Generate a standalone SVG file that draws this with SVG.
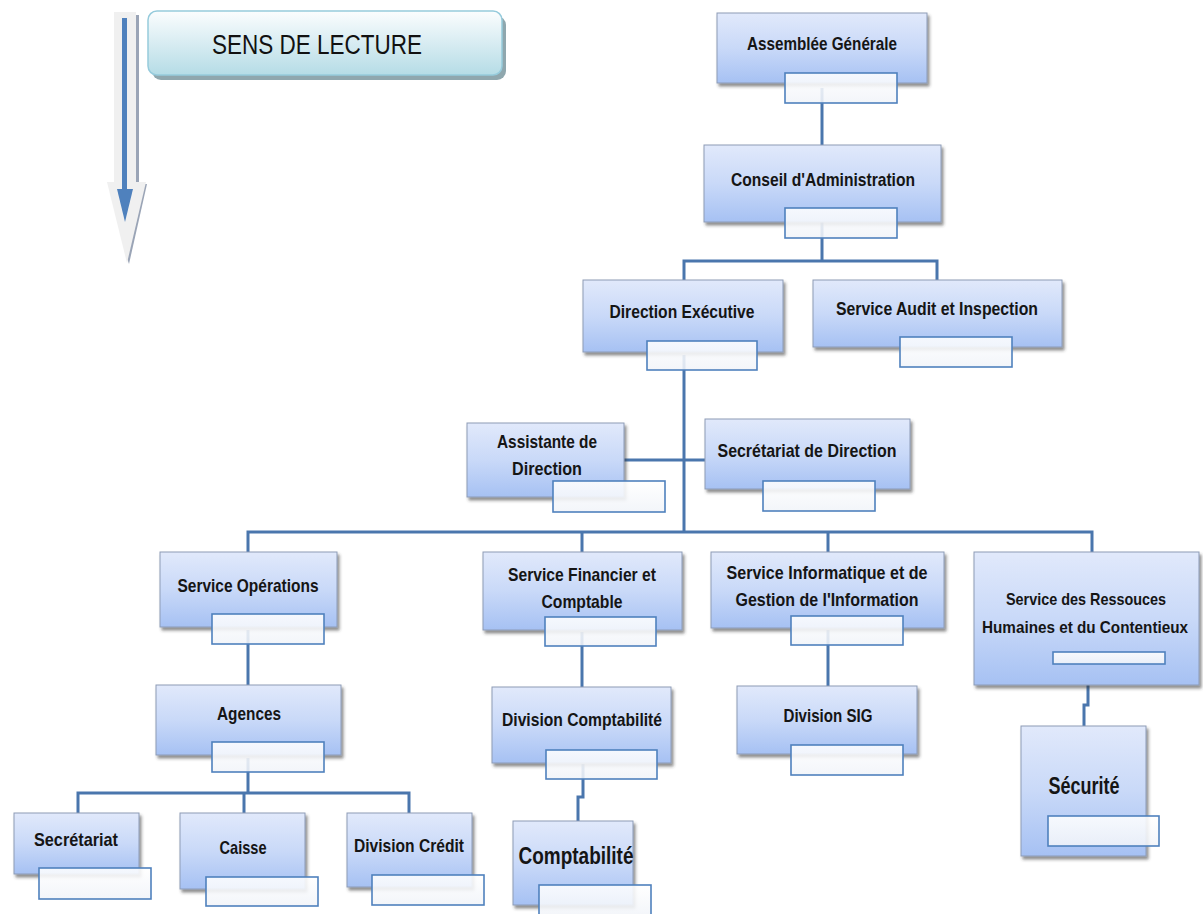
<svg xmlns="http://www.w3.org/2000/svg" width="1203" height="914" viewBox="0 0 1203 914">
<defs>
<linearGradient id="gNode" x1="0" y1="0" x2="0" y2="1">
<stop offset="0" stop-color="#e1e9fb"/>
<stop offset="0.5" stop-color="#c9d9f8"/>
<stop offset="1" stop-color="#a6c1f3"/>
</linearGradient>
<linearGradient id="gSub" x1="0" y1="0" x2="0" y2="1">
<stop offset="0" stop-color="#ffffff"/>
<stop offset="1" stop-color="#f1f4f9"/>
</linearGradient>
<linearGradient id="gSens" x1="0" y1="0" x2="0" y2="1">
<stop offset="0" stop-color="#fbfdfe"/>
<stop offset="1" stop-color="#b5dce6"/>
</linearGradient>
<filter id="sh" x="-10%" y="-10%" width="125%" height="135%">
<feDropShadow dx="2" dy="3" stdDeviation="1.6" flood-color="#333" flood-opacity="0.55"/>
</filter>
</defs>
<style>
.box{fill:url(#gNode);stroke:#8d9bb6;stroke-width:1;filter:url(#sh)}
.sub{fill:url(#gSub);fill-opacity:0.88;stroke:#4f81bd;stroke-width:1.6}
.con{fill:none;stroke:#4a76ad;stroke-width:3;stroke-linejoin:miter}
.t{font-family:"Liberation Sans",Arial,sans-serif;font-size:19px;font-weight:bold;fill:#151515;text-anchor:middle}
.big{font-size:23px}
.sm{font-size:17px}
.xs{font-size:16px}
</style>
<rect width="1203" height="914" fill="#ffffff"/>

<g id="reading-arrow">
<rect x="136" y="15" width="3" height="169" fill="#9aa4b6"/>
<polygon points="139,184 147,184 129,264 127,258" fill="#9aa4b6"/>
<rect x="114" y="12" width="22" height="172" fill="#f0f0f0"/>
<polygon points="107,182 146,182 127,263" fill="#f0f0f0"/>
<rect x="122" y="18" width="5" height="172" fill="#4f81bd"/>
<polygon points="117,189 133,189 125,222" fill="#4f81bd"/>
</g>

<g id="sens-de-lecture">
<rect x="152" y="16" width="354" height="64" rx="9" fill="#8fa7ae"/>
<rect x="148" y="11" width="354" height="64" rx="9" fill="url(#gSens)" stroke="#96cbdc" stroke-width="1.5"/>
<text x="317" y="54" style="font-family:'Liberation Sans',Arial,sans-serif;font-size:27px;fill:#111;text-anchor:middle" textLength="210" lengthAdjust="spacingAndGlyphs">SENS DE LECTURE</text>
</g>

<g id="connectors">
<path class="con" d="M822,88 V145"/>
<path class="con" d="M822,222 V261 M684,280 V261 H937 V280"/>
<path class="con" d="M684,355 V532 M624,460 H705"/>
<path class="con" d="M248,552 V532 H1092 V552 M582,532 V552 M828,532 V552"/>
<path class="con" d="M248,630 V685"/>
<path class="con" d="M248,758 V793 M78,813 V793 H409 V813 M244,793 V813"/>
<path class="con" d="M582,632 V687"/>
<path class="con" d="M583,764 V797 H578 V822"/>
<path class="con" d="M828,630 V686"/>
<path class="con" d="M1088,685 V705 H1084 V726"/>
</g>

<g id="assemblee-generale">
<rect class="box" x="717" y="13" width="210" height="70"/>
<text class="t" x="822" y="50" textLength="150" lengthAdjust="spacingAndGlyphs">Assemblée Générale</text>
<rect class="sub" x="785" y="73" width="112" height="30"/>
</g>

<g id="conseil-administration">
<rect class="box" x="704" y="145" width="237" height="77"/>
<text class="t" x="823" y="186" textLength="184" lengthAdjust="spacingAndGlyphs">Conseil d'Administration</text>
<rect class="sub" x="785" y="208" width="112" height="30"/>
</g>

<g id="direction-executive">
<rect class="box" x="583" y="280" width="200" height="72"/>
<text class="t" x="682" y="318" textLength="145" lengthAdjust="spacingAndGlyphs">Direction Exécutive</text>
<rect class="sub" x="647" y="341" width="110" height="29"/>
</g>

<g id="service-audit">
<rect class="box" x="813" y="280" width="249" height="67"/>
<text class="t" x="937" y="315" textLength="202" lengthAdjust="spacingAndGlyphs">Service Audit et Inspection</text>
<rect class="sub" x="900" y="337" width="112" height="30"/>
</g>

<g id="assistante-direction">
<rect class="box" x="467" y="423" width="157" height="74"/>
<text class="t" x="547" y="448" textLength="100" lengthAdjust="spacingAndGlyphs">Assistante de</text>
<text class="t" x="547" y="475" textLength="70" lengthAdjust="spacingAndGlyphs">Direction</text>
<rect class="sub" x="553" y="481" width="112" height="31"/>
</g>

<g id="secretariat-direction">
<rect class="box" x="705" y="419" width="205" height="70"/>
<text class="t" x="807" y="457" textLength="179" lengthAdjust="spacingAndGlyphs">Secrétariat de Direction</text>
<rect class="sub" x="763" y="481" width="112" height="30"/>
</g>

<g id="service-operations">
<rect class="box" x="160" y="552" width="177" height="75"/>
<text class="t" x="248" y="592" textLength="141" lengthAdjust="spacingAndGlyphs">Service Opérations</text>
<rect class="sub" x="212" y="614" width="112" height="30"/>
</g>

<g id="service-financier">
<rect class="box" x="483" y="552" width="199" height="78"/>
<text class="t" x="582" y="581" textLength="148" lengthAdjust="spacingAndGlyphs">Service Financier et</text>
<text class="t" x="582" y="608" textLength="81" lengthAdjust="spacingAndGlyphs">Comptable</text>
<rect class="sub" x="545" y="617" width="111" height="29"/>
</g>

<g id="service-informatique">
<rect class="box" x="711" y="552" width="233" height="76"/>
<text class="t" x="827" y="579" textLength="201" lengthAdjust="spacingAndGlyphs">Service Informatique et de</text>
<text class="t" x="827" y="606" textLength="183" lengthAdjust="spacingAndGlyphs">Gestion de l'Information</text>
<rect class="sub" x="791" y="616" width="112" height="29"/>
</g>

<g id="service-rh">
<rect class="box" x="974" y="552" width="225" height="133"/>
<text class="t sm" x="1086" y="605" textLength="160" lengthAdjust="spacingAndGlyphs">Service des Ressouces</text>
<text class="t xs" x="1085" y="633" textLength="206" lengthAdjust="spacingAndGlyphs">Humaines et du Contentieux</text>
<rect class="sub" x="1053" y="652" width="112" height="12"/>
</g>

<g id="agences">
<rect class="box" x="156" y="685" width="185" height="70"/>
<text class="t" x="249" y="720" textLength="64" lengthAdjust="spacingAndGlyphs">Agences</text>
<rect class="sub" x="212" y="742" width="112" height="30"/>
</g>

<g id="division-comptabilite">
<rect class="box" x="492" y="687" width="179" height="76"/>
<text class="t" x="582" y="726" textLength="160" lengthAdjust="spacingAndGlyphs">Division Comptabilité</text>
<rect class="sub" x="546" y="750" width="111" height="29"/>
</g>

<g id="division-sig">
<rect class="box" x="737" y="686" width="180" height="68"/>
<text class="t" x="828" y="722" textLength="89" lengthAdjust="spacingAndGlyphs">Division SIG</text>
<rect class="sub" x="791" y="745" width="112" height="30"/>
</g>

<g id="securite">
<rect class="box" x="1021" y="726" width="125" height="130"/>
<text class="t big" x="1084" y="794" textLength="71" lengthAdjust="spacingAndGlyphs">Sécurité</text>
<rect class="sub" x="1048" y="816" width="111" height="30"/>
</g>

<g id="secretariat">
<rect class="box" x="14" y="813" width="125" height="61"/>
<text class="t" x="76" y="846" textLength="84" lengthAdjust="spacingAndGlyphs">Secrétariat</text>
<rect class="sub" x="39" y="868" width="112" height="31"/>
</g>

<g id="caisse">
<rect class="box" x="180" y="813" width="125" height="76"/>
<text class="t" x="243" y="854" textLength="47" lengthAdjust="spacingAndGlyphs">Caisse</text>
<rect class="sub" x="206" y="877" width="112" height="29"/>
</g>

<g id="division-credit">
<rect class="box" x="347" y="813" width="125" height="74"/>
<text class="t" x="409" y="852" textLength="110" lengthAdjust="spacingAndGlyphs">Division Crédit</text>
<rect class="sub" x="372" y="875" width="112" height="30"/>
</g>

<g id="comptabilite">
<rect class="box" x="513" y="821" width="120" height="84"/>
<text class="t big" x="576" y="864" textLength="115" lengthAdjust="spacingAndGlyphs">Comptabilité</text>
<rect class="sub" x="539" y="885" width="112" height="32"/>
</g>
</svg>
